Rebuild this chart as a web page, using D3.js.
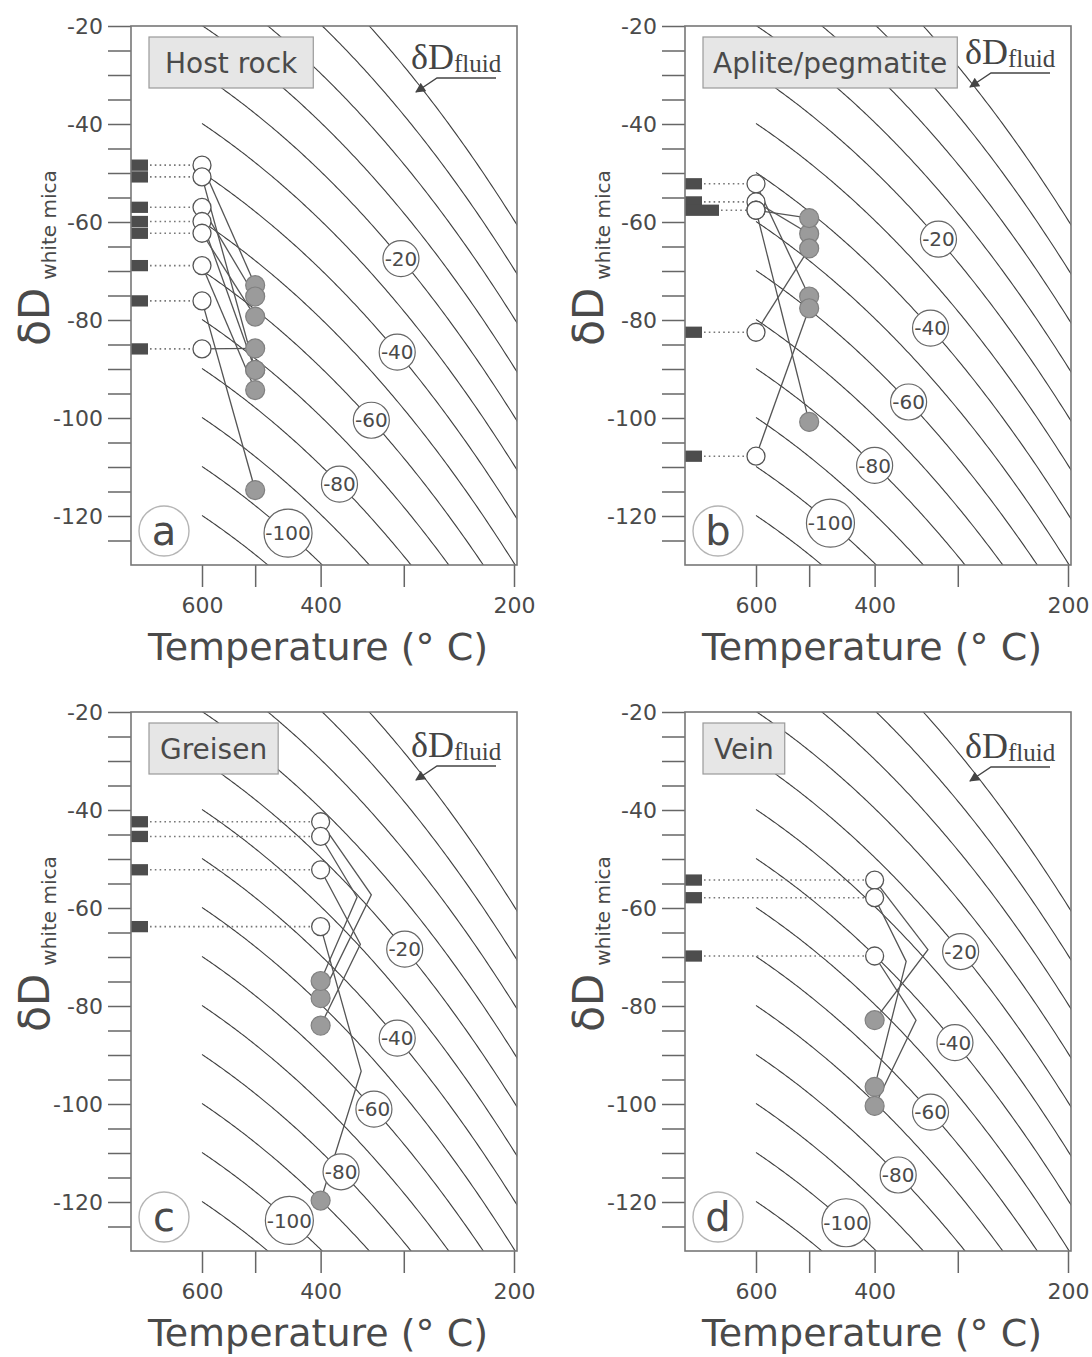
<!DOCTYPE html>
<html>
<head>
<meta charset="utf-8">
<script src="https://cdn.jsdelivr.net/npm/d3@7"></script>
<style>
  body { margin: 0; background: #fff; }
  svg text { font-family: "DejaVu Sans", sans-serif; fill: #4a4a4a; }
</style>
</head>
<body>
<svg id="fig" width="1092" height="1357"></svg>
<script>
// white mica - water fractionation (Suzuoki & Epstein 1976): 1000 ln a = A * 10^6 / T^2 + B
const fracA = -22.1;
const fracB = 19.1;

const fluidLevels = [-110, -100, -90, -80, -70, -60, -50, -40, -30, -20, -10, 0, 10, 20];
const labelLevels = [-20, -40, -60, -80, -100];
const tempTicks = [600, 500, 400, 300, 200];
const tempLabels = [600, 400, 200];
const dTicks = [-125, -120, -115, -110, -105, -100, -95, -90, -85, -80, -75, -70, -65, -60, -55, -50, -45, -40, -35, -30, -25, -20];
const dLabels = [-120, -100, -80, -60, -40, -20];

// a: host rock (open 600 C -> filled 500 C)
const hostOpen = [-48.4, -50.8, -57.0, -59.9, -62.3, -68.9, -76.1, -85.9];
const hostFilled = [-72.9, -90.2, -75.2, -90.2, -79.3, -94.3, -114.7, -85.8];
const hostLabelT = [303, 307, 336, 375, 447];

// b: aplite/pegmatite
const apliteOpen = [-52.2, -55.9, -57.6, -57.6, -82.5, -107.8];
const apliteFilled = [-75.2, -62.4, -59.2, -100.8, -65.4, -77.6];
const apliteLabelT = [321, 330, 356, 400, 465];

// c: greisen (open 400 C -> bend -> filled 400 C)
const greisenOpen = [-42.4, -45.4, -52.2, -63.8];
const greisenBendT = [336, 353, 349, 348];
const greisenBend = [-57.3, -57.8, -67.4, -93.3];
const greisenFilled = [-78.4, -74.9, -84.0, -119.7];
const greisenLabelT = [299, 307, 333, 373, 445];

// d: vein
const veinOpen = [-54.3, -57.9, -69.8];
const veinBendT = [333, 359, 347];
const veinBend = [-68.5, -70.9, -82.9];
const veinFilled = [-82.9, -96.5, -100.4];
const veinLabelT = [297, 303, 330, 369, 441];

const panels = [
  { id: "a", title: "Host rock", ox: 131, oy: 26, open: hostOpen, filled: hostFilled, tOpen: 600, tFilled: 500, labelT: hostLabelT, pad: 16, fdy: 0 },
  { id: "b", title: "Aplite/pegmatite", ox: 685, oy: 26, open: apliteOpen, filled: apliteFilled, tOpen: 600, tFilled: 500, labelT: apliteLabelT, pad: 10, fdy: -5 },
  { id: "c", title: "Greisen", ox: 131, oy: 712, open: greisenOpen, filled: greisenFilled, bendT: greisenBendT, bend: greisenBend, tOpen: 400, tFilled: 400, labelT: greisenLabelT, pad: 11, fdy: 2 },
  { id: "d", title: "Vein", ox: 685, oy: 712, open: veinOpen, filled: veinFilled, bendT: veinBendT, bend: veinBend, tOpen: 400, tFilled: 400, labelT: veinLabelT, pad: 11, fdy: 3 }
];

const W = 386, H = 539;
const x = d3.scalePow().exponent(-0.6).domain([873.15, 473.15]).range([71, 383]);
const xT = t => x(t + 273.15);
const y = d3.scaleLinear().domain([-130, -20]).range([H, 0]);
const frac = t => { const k = t + 273.15; return fracA * 1e6 / (k * k) + fracB; };
const contourT = d3.range(600, 185, -2);

const svg = d3.select("#fig");
const defs = svg.append("defs");
defs.append("marker")
  .attr("id", "arrow")
  .attr("viewBox", "0 0 10 10")
  .attr("refX", 9).attr("refY", 5)
  .attr("markerWidth", 12).attr("markerHeight", 10)
  .attr("markerUnits", "userSpaceOnUse")
  .attr("orient", "auto")
  .append("path").attr("d", "M0,0 L10,5 L0,10 z").attr("fill", "#444");

const line = d3.line().x(d => xT(d[0])).y(d => y(d[1]));

panels.forEach(p => {
  const g = svg.append("g").attr("transform", `translate(${p.ox},${p.oy})`);

  defs.append("clipPath").attr("id", "clip-" + p.id)
    .append("rect").attr("width", W).attr("height", H);

  // fluid isopleths
  g.append("g").attr("clip-path", `url(#clip-${p.id})`)
    .selectAll("path").data(fluidLevels).join("path")
    .attr("d", lv => line(contourT.map(t => [t, lv + frac(t)])))
    .attr("fill", "none").attr("stroke", "#3f3f3f").attr("stroke-width", 1.1);

  // title box
  const tt = g.append("text").attr("font-size", 28).attr("text-anchor", "middle").text(p.title);
  const tw = tt.node().getComputedTextLength();
  const bw = tw + 2 * p.pad;
  g.insert("rect", "text")
    .attr("x", 18).attr("y", 11).attr("width", bw).attr("height", 51)
    .attr("fill", "#e6e6e6").attr("stroke", "#9a9a9a").attr("stroke-width", 1.2);
  tt.attr("x", 18 + bw / 2).attr("y", 46.5);

  // histogram bars on axis + dotted leaders
  const counts = d3.rollups(p.open, v => v.length, d => d);
  g.append("g").selectAll("rect").data(counts).join("rect")
    .attr("x", 0).attr("y", d => y(d[0] + 1.15))
    .attr("width", d => 17 * d[1]).attr("height", d => y(d[0] - 1.15) - y(d[0] + 1.15))
    .attr("fill", "#4d4d4d");
  g.append("g").selectAll("line").data(counts).join("line")
    .attr("x1", d => 17 * d[1] + 2).attr("x2", xT(p.tOpen) - 9)
    .attr("y1", d => y(d[0])).attr("y2", d => y(d[0]))
    .attr("stroke", "#777").attr("stroke-width", 1.6).attr("stroke-dasharray", "1.6,3.2");

  // sample paths
  const paths = p.open.map((o, i) => {
    const pts = [[p.tOpen, o]];
    if (p.bend) pts.push([p.bendT[i], p.bend[i]]);
    pts.push([p.tFilled, p.filled[i]]);
    return pts;
  });
  g.append("g").selectAll("path").data(paths).join("path")
    .attr("d", line).attr("fill", "none").attr("stroke", "#555").attr("stroke-width", 1.3);

  g.append("g").selectAll("circle").data(p.filled).join("circle")
    .attr("cx", xT(p.tFilled)).attr("cy", d => y(d)).attr("r", 9.5)
    .attr("fill", "#9b9b9b").attr("stroke", "#808080").attr("stroke-width", 1.2);
  g.append("g").selectAll("circle").data(p.open).join("circle")
    .attr("cx", xT(p.tOpen)).attr("cy", d => y(d)).attr("r", 9)
    .attr("fill", "#fff").attr("stroke", "#555").attr("stroke-width", 1.3);

  // isopleth labels
  const lab = g.append("g").selectAll("g").data(labelLevels).join("g")
    .attr("transform", (lv, i) => `translate(${xT(p.labelT[i])},${y(lv + frac(p.labelT[i]))})`);
  lab.append("circle").attr("r", lv => String(lv).length > 3 ? 24 : 18)
    .attr("fill", "#fff").attr("stroke", "#666").attr("stroke-width", 1.2);
  lab.append("text").attr("text-anchor", "middle").attr("dy", "0.36em")
    .attr("font-size", 20).text(lv => lv);

  // panel letter
  g.append("circle").attr("cx", 33).attr("cy", 505).attr("r", 25)
    .attr("fill", "#fff").attr("stroke", "#b5b5b5").attr("stroke-width", 1.4);
  g.append("text").attr("x", 33).attr("y", 505).attr("dy", "0.36em")
    .attr("text-anchor", "middle").attr("font-size", 40).text(p.id);

  // dD fluid label with arrow
  const ft = g.append("text").attr("x", W - 106).attr("y", 43 + p.fdy)
    .style("font-family", '"Liberation Serif", "DejaVu Serif", serif').style("fill", "#444");
  ft.append("tspan").attr("font-size", 36).text("δD");
  ft.append("tspan").attr("font-size", 25).attr("dy", 3).text("fluid");
  g.append("path")
    .attr("d", `M${W - 21},${52 + p.fdy} H${W - 80} L${W - 101},${66 + p.fdy}`)
    .attr("fill", "none").attr("stroke", "#444").attr("stroke-width", 1.3)
    .attr("marker-end", "url(#arrow)");

  // axes
  const ya = g.append("g").call(d3.axisLeft(y).tickValues(dTicks).tickSize(23).tickPadding(5)
    .tickFormat(d => dLabels.includes(d) ? d : ""));
  const xa = g.append("g").attr("transform", `translate(0,${H})`)
    .call(d3.axisBottom(x).tickValues(tempTicks.map(t => t + 273.15)).tickSize(22).tickPadding(10)
      .tickFormat(k => tempLabels.includes(Math.round(k - 273.15)) ? Math.round(k - 273.15) : ""));
  [ya, xa].forEach(a => {
    a.select(".domain").remove();
    a.selectAll("line").attr("stroke", "#666").attr("stroke-width", 1.5);
    a.selectAll("text").attr("font-size", 22).attr("fill", "#4a4a4a").style("font-family", '"DejaVu Sans", sans-serif');
  });

  g.append("rect").attr("width", W).attr("height", H)
    .attr("fill", "none").attr("stroke", "#777").attr("stroke-width", 1.6);

  // axis titles
  g.append("text").attr("x", 187).attr("y", H + 95).attr("text-anchor", "middle")
    .attr("font-size", 38).text("Temperature (° C)");
  const yt = g.append("text").attr("transform", "translate(-82,232) rotate(-90)").attr("text-anchor", "middle");
  yt.append("tspan").attr("font-size", 42).text("δD");
  yt.append("tspan").attr("font-size", 20).attr("dx", 8).attr("dy", 7).text("white mica");
});
</script>
</body>
</html>
